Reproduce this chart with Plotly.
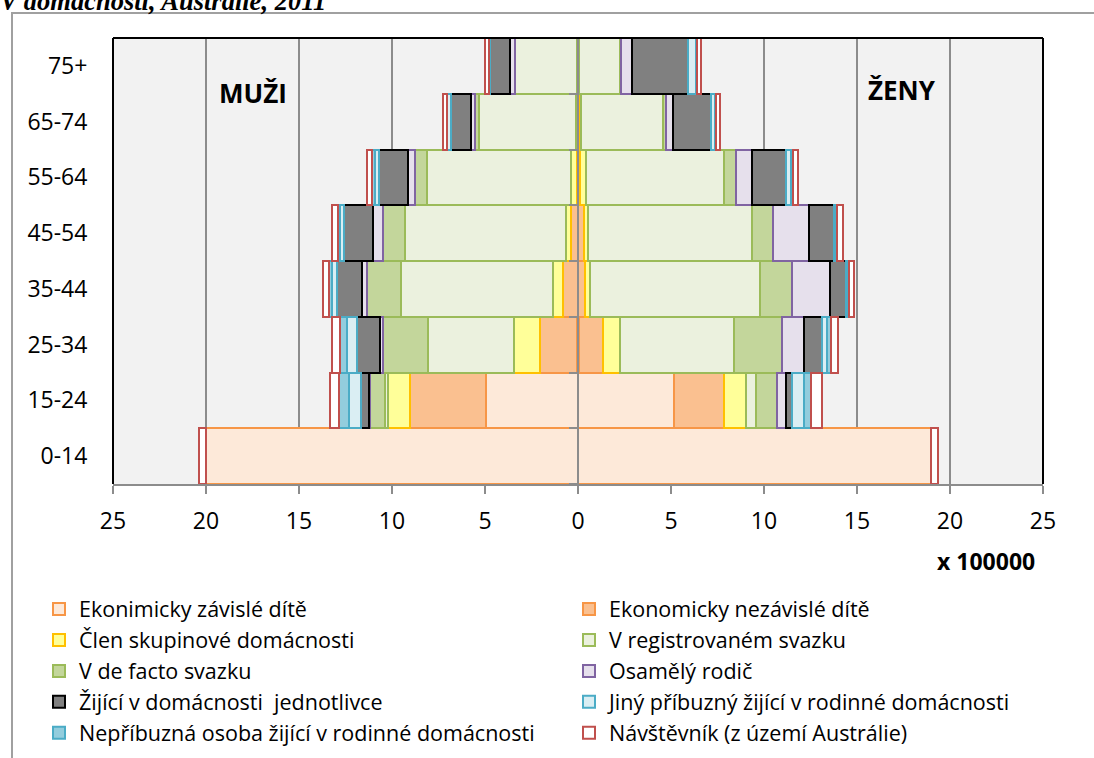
import plotly.graph_objects as go

ages = ["0-14", "15-24", "25-34", "35-44", "45-54", "55-64", "65-74", "75+"]
tick_vals = [-25, -20, -15, -10, -5, 0, 5, 10, 15, 20, 25]
tick_text = ["25", "20", "15", "10", "5", "0", "5", "10", "15", "20", "25"]

categories = [
    "Ekonimicky závislé dítě",
    "Ekonomicky nezávislé dítě",
    "Člen skupinové domácnosti",
    "V registrovaném svazku",
    "V de facto svazku",
    "Osamělý rodič",
    "Žijící v domácnosti  jednotlivce",
    "Jiný příbuzný žijící v rodinné domácnosti",
    "Nepříbuzná osoba žijící v rodinné domácnosti",
    "Návštěvník (z území Austrálie)",
]

# values in units of 100000 persons, age groups ordered as `ages`
men_zavisle = [19.98, 4.92, 0.05, 0.02, 0.01, 0.0, 0.0, 0.0]
men_nezavisle = [0.0, 4.12, 2.01, 0.77, 0.39, 0.08, 0.02, 0.02]
men_clen = [0.0, 1.17, 1.38, 0.54, 0.27, 0.32, 0.07, 0.04]
men_registr = [0.0, 0.18, 4.62, 8.16, 8.64, 7.74, 5.25, 3.32]
men_defacto = [0.0, 0.77, 2.45, 1.83, 1.16, 0.63, 0.21, 0.03]
men_osamely = [0.0, 0.08, 0.15, 0.32, 0.54, 0.36, 0.21, 0.23]
men_jednotl = [0.0, 0.41, 1.22, 1.34, 1.58, 1.58, 1.08, 1.08]
men_jiny = [0.0, 0.67, 0.54, 0.25, 0.20, 0.22, 0.20, 0.06]
men_nepribuz = [0.0, 0.54, 0.35, 0.18, 0.12, 0.12, 0.03, 0.02]
men_navstev = [0.38, 0.45, 0.45, 0.29, 0.30, 0.27, 0.21, 0.19]

women_zavisle = [19.0, 5.15, 0.03, 0.01, 0.01, 0.0, 0.0, 0.0]
women_nezavisle = [0.0, 2.69, 1.29, 0.36, 0.32, 0.12, 0.05, 0.02]
women_clen = [0.0, 1.17, 0.95, 0.27, 0.22, 0.30, 0.09, 0.05]
women_registr = [0.0, 0.54, 6.13, 9.14, 8.78, 7.42, 4.42, 2.20]
women_defacto = [0.0, 1.16, 2.56, 1.70, 1.16, 0.63, 0.18, 0.03]
women_osamely = [0.0, 0.45, 1.20, 2.06, 1.94, 0.86, 0.36, 0.59]
women_jednotl = [0.0, 0.32, 0.95, 0.86, 1.33, 1.83, 2.03, 3.04]
women_jiny = [0.0, 0.66, 0.30, 0.12, 0.10, 0.28, 0.24, 0.40]
women_nepribuz = [0.0, 0.41, 0.18, 0.06, 0.05, 0.10, 0.03, 0.05]
women_navstev = [0.38, 0.57, 0.41, 0.25, 0.32, 0.30, 0.22, 0.22]

men = [men_zavisle, men_nezavisle, men_clen, men_registr, men_defacto,
       men_osamely, men_jednotl, men_jiny, men_nepribuz, men_navstev]
women = [women_zavisle, women_nezavisle, women_clen, women_registr, women_defacto,
         women_osamely, women_jednotl, women_jiny, women_nepribuz, women_navstev]

fills = ["#FDE9D9", "#FAC090", "#FFFF99", "#EBF1DE", "#C3D69B",
         "#E6E0EC", "#808080", "#DAEEF3", "#93CDDD", "#FFFFFF"]
lines = ["#F79646", "#F79646", "#FFC000", "#9BBB59", "#9BBB59",
         "#8064A2", "#000000", "#4BACC6", "#4BACC6", "#C0504D"]

FONT = "Open Sans"

fig = go.Figure()
for i, name in enumerate(categories):
    legend_id = "legend" if i % 2 == 0 else "legend2"
    marker = dict(color=fills[i], line=dict(color=lines[i], width=2))
    fig.add_trace(go.Bar(
        y=ages, x=[-v for v in men[i]], orientation="h", name=name,
        marker=marker, legendgroup=name, showlegend=False, legend=legend_id,
    ))
    fig.add_trace(go.Bar(
        y=ages, x=women[i], orientation="h", name=name,
        marker=marker, legendgroup=name, showlegend=True, legend=legend_id,
    ))

GRAY = "#8C8C8C"

# pixel -> paper helpers (plot area 113..1043 x, 38..484 y)
def px(x):
    return (x - 113) / 930.0

def py(y):
    return (484 - y) / 446.0

fig.update_layout(
    width=1094, height=758, autosize=False,
    margin=dict(l=113, r=51, t=38, b=274, pad=0, autoexpand=False),
    paper_bgcolor="white", plot_bgcolor="#F2F2F2",
    barmode="relative", bargap=0,
    font=dict(family=FONT, color="black"),
    xaxis=dict(
        range=[-25, 25], tickvals=tick_vals, ticktext=tick_text,
        showgrid=True, gridcolor=GRAY, gridwidth=2, zeroline=False,
        showline=True, linecolor=GRAY, linewidth=2,
        ticks="outside", ticklen=8, tickwidth=2, tickcolor=GRAY,
        tickfont=dict(size=23, family=FONT, color="black"),
        ticklabelstandoff=7, automargin=False, fixedrange=True,
    ),
    yaxis=dict(
        type="category", categoryorder="array", categoryarray=ages,
        range=[-0.5, 7.5], anchor="free", position=0.5,
        showline=True, linecolor=GRAY, linewidth=2,
        ticks="outside", ticklen=8, tickwidth=2, tickcolor=GRAY,
        tickson="boundaries", showgrid=False, zeroline=False,
        tickfont=dict(size=23, family=FONT, color="black"),
        ticklabelstandoff=485, automargin=False, fixedrange=True,
    ),
    legend=dict(
        x=px(39), y=py(588.5), xanchor="left", yanchor="top",
        orientation="v", font=dict(size=21.5, family=FONT, color="black"),
        bgcolor="rgba(0,0,0,0)", borderwidth=0, traceorder="normal",
    ),
    legend2=dict(
        x=px(569), y=py(588.5), xanchor="left", yanchor="top",
        orientation="v", font=dict(size=21.5, family=FONT, color="black"),
        bgcolor="rgba(0,0,0,0)", borderwidth=0, traceorder="normal",
    ),
    shapes=[
        # outer chart frame (gray)
        dict(type="path", xref="paper", yref="paper",
             path=f"M {px(12)},{py(780)} L {px(12)},{py(13)} L {px(1110)},{py(13)}",
             line=dict(color="#A0A0A0", width=2), layer="above"),
        # plot area border (black) on left, top and right
        dict(type="line", xref="paper", yref="paper", x0=0, x1=0, y0=0, y1=1,
             line=dict(color="black", width=2), layer="above"),
        dict(type="line", xref="paper", yref="paper", x0=0, x1=1, y0=1, y1=1,
             line=dict(color="black", width=2), layer="above"),
        dict(type="line", xref="paper", yref="paper", x0=1, x1=1, y0=0, y1=1,
             line=dict(color="black", width=2), layer="above"),
    ],
    annotations=[
        dict(text="V domácnosti, Austrálie, 2011", xref="paper", yref="paper",
             x=px(-2), y=py(18), xanchor="left", yanchor="bottom", showarrow=False,
             font=dict(family="Liberation Serif", size=26.5, weight="bold",
                       style="italic", color="black")),
        dict(text="MUŽI", xref="paper", yref="paper", x=px(253), y=py(93),
             xanchor="center", yanchor="middle", showarrow=False,
             font=dict(family=FONT, size=26, weight="bold", color="black")),
        dict(text="ŽENY", xref="paper", yref="paper", x=px(902), y=py(90),
             xanchor="center", yanchor="middle", showarrow=False,
             font=dict(family=FONT, size=26, weight="bold", color="black")),
        dict(text="x 100000", xref="paper", yref="paper", x=px(986), y=py(561),
             xanchor="center", yanchor="middle", showarrow=False,
             font=dict(family=FONT, size=23, weight="bold", color="black")),
    ],
)

fig.write_html("out.html")
